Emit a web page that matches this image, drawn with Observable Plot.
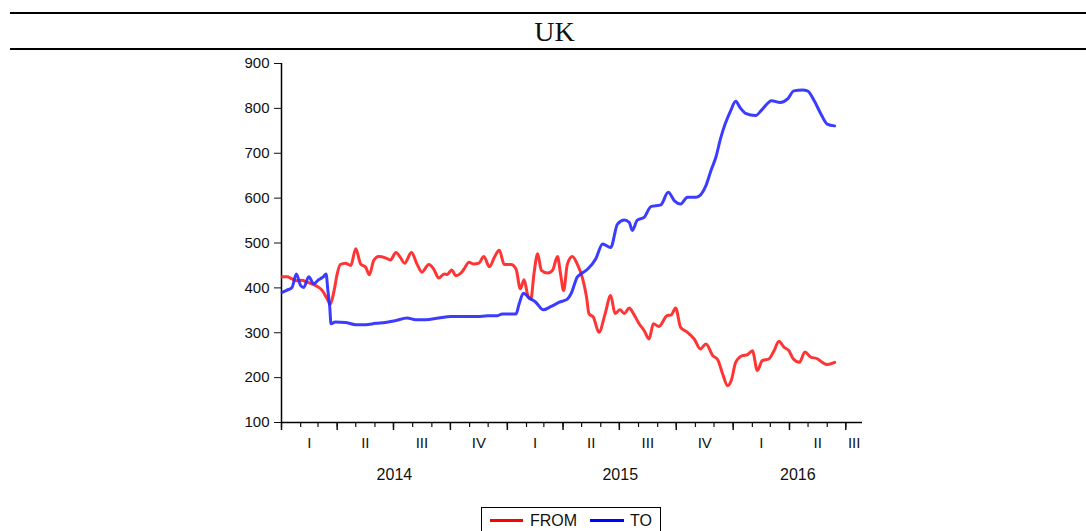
<!DOCTYPE html>
<html>
<head>
<meta charset="utf-8">
<script src="https://cdn.jsdelivr.net/npm/d3@7"></script>
<script src="https://cdn.jsdelivr.net/npm/@observablehq/plot@0.6"></script>
<style>
  html, body { margin: 0; padding: 0; background: #fff; }
  body { width: 1086px; height: 531px; position: relative; overflow: hidden; font-family: "Liberation Sans", Arial, sans-serif; color: #000; }
  .rule { position: absolute; left: 10px; width: 1076px; height: 2px; background: #000; }
  #title { position: absolute; left: 454.5px; width: 200px; top: 17.5px; text-align: center; font-family: "Liberation Serif", "Times New Roman", serif; font-size: 28px; line-height: 28px; color: #111; }
  #chart { position: absolute; left: 0; top: 50px; }
  #chart svg { overflow: visible; }
  #legend { position: absolute; left: 481px; top: 507px; width: 178px; height: 30px; border: 1px solid #000; background: #fff; }
  #legend .sw { position: absolute; top: 11px; height: 3px; }
  #legend .lb { position: absolute; top: 4.5px; font-size: 16px; line-height: 16px; color: #111; }
</style>
</head>
<body>
<div class="rule" style="top:12px"></div>
<div id="title">UK</div>
<div class="rule" style="top:48px"></div>
<div id="chart"></div>
<div id="legend"></div>
<script>
// ---- data ----
const origin = "2014-01-01";         // day 0 of the day offsets below
const domainEnd = "2016-07-28";
const years = [2014, 2015, 2016];
const quarterNames = ["I", "II", "III", "IV"];
const yTicks = [100, 200, 300, 400, 500, 600, 700, 800, 900];
const seriesNames = ["FROM", "TO"];
const seriesColors = ["#ff2424", "#2b2bff"];

const fromDay = [1,9,17,25,33,41,49,58,66,74,79,85,90,95,103,112,120,128,136,142,149,157,168,176,185,192,199,210,219,227,238,246,254,263,268,275,282,290,295,303,311,319,327,336,344,352,360,371,379,386,392,399,403,408,414,420,430,438,446,451,456,462,470,478,486,490,493,497,504,513,523,532,539,547,554,562,569,578,586,594,601,610,623,630,637,645,656,667,677,686,697,705,713,721,727,734,745,753,761,769,777,788,796,804,812,820,827,837,846,855,866,874,882,894];
const fromVal = [425,425,420,416,417,413,409,403,394,375,364,394,431,452,455,450,487,453,446,429,461,470,467,462,479,468,455,479,453,435,452,442,422,431,430,440,427,433,442,457,453,455,470,447,468,484,452,452,442,398,418,379,375,431,476,439,433,439,470,431,394,453,470,453,424,401,379,342,335,301,342,383,343,351,343,355,342,320,305,286,320,314,338,340,355,312,301,286,264,275,249,240,208,182,194,234,249,251,260,216,238,242,260,281,268,260,242,234,257,246,242,234,229,234];

const toDay = [1,9,17,24,31,36,44,52,60,68,72,75,78,80,87,103,120,136,152,168,184,203,217,233,254,274,295,317,333,349,357,379,384,391,400,411,423,435,449,462,468,478,484,495,508,519,532,543,554,562,567,575,586,597,613,625,635,645,656,670,686,694,702,710,717,726,734,741,750,766,777,792,806,818,828,842,850,861,872,882,894];
const toVal = [390,395,401,431,405,401,425,409,418,425,431,394,357,320,324,323,318,318,321,323,327,333,329,329,333,336,336,336,338,338,342,342,364,388,378,368,351,358,368,375,387,424,431,442,465,498,490,542,551,546,528,551,557,581,585,613,594,587,602,602,628,661,691,735,765,795,816,802,789,784,798,817,813,821,839,841,839,817,787,765,761];

// ---- build tables ----
const t0 = new Date(origin + "T00:00:00Z");
const tEnd = new Date(domainEnd + "T00:00:00Z");
const dayToDate = d => new Date(t0.getTime() + d * 86400000);
const rows = [
  ...fromDay.map((d, i) => ({date: dayToDate(d), value: fromVal[i], series: seriesNames[0]})),
  ...toDay.map((d, i) => ({date: dayToDate(d), value: toVal[i], series: seriesNames[1]}))
];

const monthTicks = d3.utcMonth.range(t0, tEnd);
const quarterTicks = d3.utcMonth.every(3).range(t0, tEnd);
const mid = (a, b) => new Date((a.getTime() + b.getTime()) / 2);
const quarterLabels = [];
years.forEach(y => quarterNames.forEach((q, qi) => {
  const s = new Date(Date.UTC(y, qi * 3, 1));
  const e = new Date(Date.UTC(y, qi * 3 + 3, 1));
  if (s < tEnd) quarterLabels.push({date: mid(s, e < tEnd ? e : tEnd), label: q});
}));
const yearLabels = years.map(y => {
  const s = new Date(Date.UTC(y, 0, 1));
  const e = new Date(Date.UTC(y + 1, 0, 1));
  return {date: mid(s, e < tEnd ? e : tEnd), label: String(y)};
});

const chart = Plot.plot({
  width: 1086,
  height: 440,
  marginLeft: 281,
  marginRight: 224,
  marginTop: 13,
  marginBottom: 68,
  style: {fontFamily: "'Liberation Sans', Arial, sans-serif", fontSize: "15px", color: "#111", background: "transparent"},
  x: {type: "utc", domain: [t0, tEnd]},
  y: {domain: [yTicks[0], yTicks[yTicks.length - 1]]},
  color: {domain: seriesNames, range: seriesColors},
  marks: [
    Plot.axisY({ticks: yTicks, tickSize: 7, tickPadding: 5, tickFormat: d => String(d), label: null, fontSize: 15}),
    Plot.axisX({ticks: monthTicks, tickSize: 5, tickFormat: () => "", label: null, strokeWidth: 1.2}),
    Plot.axisX({ticks: quarterTicks, tickSize: 8, tickFormat: () => "", label: null, strokeWidth: 1.5}),
    Plot.ruleX([t0], {stroke: "#000", strokeWidth: 1.5}),
    Plot.ruleY([yTicks[0]], {stroke: "#000", strokeWidth: 1.5}),
    Plot.text(quarterLabels, {x: "date", text: "label", frameAnchor: "bottom", dy: 21, lineAnchor: "middle", fontSize: 15, fill: "#111"}),
    Plot.text(yearLabels, {x: "date", text: "label", frameAnchor: "bottom", dy: 52, lineAnchor: "middle", fontSize: 16, fill: "#111"}),
    Plot.line(rows, {x: "date", y: "value", z: "series", stroke: "series", strokeWidth: 3, curve: "monotone-x", strokeLinejoin: "round", strokeLinecap: "round", strokeOpacity: 0.92})
  ]
});
document.getElementById("chart").appendChild(chart);

// legend
const legend = document.getElementById("legend");
const legendLayout = [{sw: 8, w: 33, lb: 48}, {sw: 108, w: 34, lb: 148}];
seriesNames.forEach((name, i) => {
  const sw = document.createElement("div");
  sw.className = "sw";
  sw.style.left = legendLayout[i].sw + "px";
  sw.style.width = legendLayout[i].w + "px";
  sw.style.background = i === 0 ? "#ff0000" : "#0000ff";
  legend.appendChild(sw);
  const lb = document.createElement("div");
  lb.className = "lb";
  lb.style.left = legendLayout[i].lb + "px";
  lb.textContent = name;
  legend.appendChild(lb);
});
</script>
</body>
</html>
